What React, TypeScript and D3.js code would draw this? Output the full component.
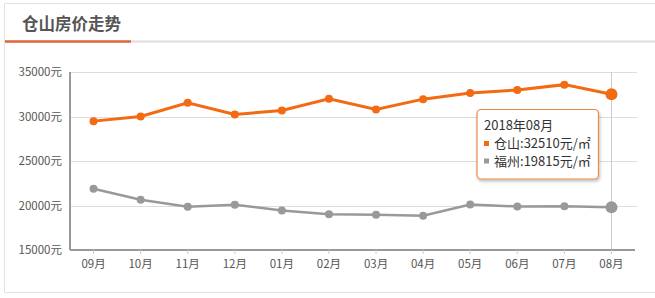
import React from "react";
import * as d3 from "d3";

const months = ["09月", "10月", "11月", "12月", "01月", "02月", "03月", "04月", "05月", "06月", "07月", "08月"];
const cangshan = [29480, 30000, 31540, 30230, 30670, 31990, 30780, 31950, 32640, 32980, 33580, 32510];
const fuzhou = [21880, 20640, 19850, 20080, 19440, 19020, 18950, 18840, 20110, 19890, 19920, 19815];
const yTicks = [15000, 20000, 25000, 30000, 35000];
const title = "仓山房价走势";
const tooltipTitle = "2018年08月";

const ORANGE = "#f26a12";
const GRAY = "#999999";
const FONT = "'Noto Sans CJK SC', 'Noto Sans', sans-serif";

export default function App() {
  const W = 655, H = 298;
  const left = 70, right = 635, top = 72, bottom = 250;
  const x = d3.scaleBand<string>().domain(months).range([left, right]);
  const cx = (m: string) => (x(m) as number) + x.bandwidth() / 2;
  const y = d3.scaleLinear().domain([15000, 35000]).range([bottom, top]);
  const line = d3.line<number>().x((_, i) => cx(months[i])).y((d) => y(d));
  const last = months.length - 1;

  return (
    <svg width={W} height={H} style={{ position: "absolute", left: 0, top: 0, fontFamily: FONT }}>
      <defs>
        <filter id="sh" x="-20%" y="-20%" width="140%" height="150%">
          <feDropShadow dx="1" dy="2" stdDeviation="1.5" floodColor="#000" floodOpacity="0.25" />
        </filter>
      </defs>
      <rect x={0} y={0} width={W} height={H} fill="#fff" />
      {/* frame */}
      <line x1={4.5} x2={W} y1={3.5} y2={3.5} stroke="#e2e2e2" />
      <line x1={4.5} x2={4.5} y1={3.5} y2={292.5} stroke="#e2e2e2" />
      <line x1={4.5} x2={W} y1={292.5} y2={292.5} stroke="#e2e2e2" />
      {/* header */}
      <text x={22} y={30} fontSize={16.5} fontWeight="bold" fill="#555">{title}</text>
      <line x1={5} x2={W} y1={41.5} y2={41.5} stroke="#dcdcdc" strokeWidth={2} />
      <line x1={5} x2={131} y1={41.5} y2={41.5} stroke="#e0673a" strokeWidth={2.5} />
      {/* grid */}
      {yTicks.map((t) => (
        <g key={t}>
          {t !== 15000 && (
            <line x1={left} x2={right + 2} y1={Math.round(y(t)) + 0.5} y2={Math.round(y(t)) + 0.5} stroke="#dddddd" />
          )}
          <text x={62} y={y(t)} dy="0.35em" textAnchor="end" fontSize={11.5} fill="#555">{t}元</text>
        </g>
      ))}
      {/* crosshair */}
      <line x1={Math.round(cx(months[last])) + 0.5} x2={Math.round(cx(months[last])) + 0.5} y1={top} y2={bottom + 4} stroke="#cccccc" />
      {/* axes */}
      <line x1={left} x2={left} y1={top} y2={bottom} stroke="#999" strokeWidth={2} />
      <line x1={left} x2={right} y1={bottom} y2={bottom} stroke="#999" strokeWidth={2} />
      {months.map((m) => (
        <g key={m}>
          <line x1={cx(m)} x2={cx(m)} y1={bottom} y2={bottom + 4} stroke="#ccc" />
          <text x={cx(m)} y={264} dy="0.35em" textAnchor="middle" fontSize={11.5} fill="#555">{m}</text>
        </g>
      ))}
      {/* series */}
      <path d={line(fuzhou) as string} fill="none" stroke={GRAY} strokeWidth={2.5} />
      {fuzhou.map((v, i) => (
        <circle key={i} cx={cx(months[i])} cy={y(v)} r={i === last ? 6 : 4} fill={GRAY} />
      ))}
      <path d={line(cangshan) as string} fill="none" stroke={ORANGE} strokeWidth={3} />
      {cangshan.map((v, i) => (
        <circle key={i} cx={cx(months[i])} cy={y(v)} r={i === last ? 6 : 4} fill={ORANGE} />
      ))}
      {/* tooltip */}
      <g>
        <rect x={477} y={109.5} width={121.5} height={69.5} rx={4} fill="#fff" stroke="#e58a4a" strokeWidth={1.2} filter="url(#sh)" />
        <text x={484} y={125.5} dy="0.35em" fontSize={13} fill="#333">{tooltipTitle}</text>
        <rect x={484} y={141} width={5} height={5} fill={ORANGE} />
        <text x={494} y={143.3} dy="0.35em" fontSize={13} fill="#333">仓山:{cangshan[last]}元/㎡</text>
        <rect x={484} y={158.5} width={5} height={5} fill={GRAY} />
        <text x={494} y={161} dy="0.35em" fontSize={13} fill="#333">福州:{fuzhou[last]}元/㎡</text>
      </g>
    </svg>
  );
}
